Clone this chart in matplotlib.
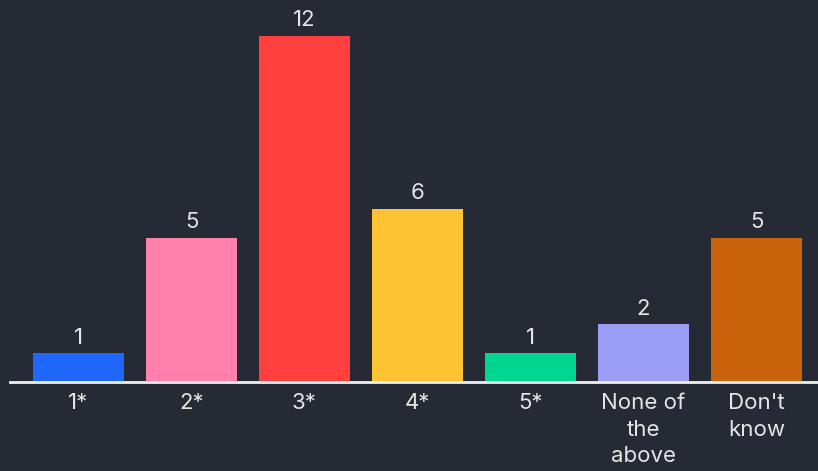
import matplotlib
matplotlib.use("Agg")
import matplotlib.pyplot as plt

categories = ["1*", "2*", "3*", "4*", "5*", "None of\nthe\nabove", "Don't\nknow"]
values = [1, 5, 12, 6, 1, 2, 5]
colors = ["#1f68fb", "#ff80aa", "#ff403f", "#ffc233", "#00d68f", "#9a9df5", "#c9630c"]

bg = "#262a35"
fg = "#e6e6e6"
plt.rcParams["font.family"] = ["Inter", "DejaVu Sans"]

fig = plt.figure(figsize=(8.18, 4.71), dpi=100, facecolor=bg)
ax = fig.add_axes([10 / 818, 89 / 471, 808 / 818, 382 / 471])
ax.set_facecolor(bg)

x = list(range(len(categories)))
bars = ax.bar(x, values, width=0.805, color=colors)
for b, v in zip(bars, values):
    ax.annotate(str(v), (b.get_x() + b.get_width() / 2, v), xytext=(0, 4),
                textcoords="offset points", ha="center", va="bottom",
                color=fg, fontsize=16)

ax.set_xlim(-0.606, 6.544)
ax.set_ylim(0, 13.25)
ax.set_xticks(x)
ax.set_xticklabels(categories, color=fg, fontsize=16, linespacing=1.4)
ax.tick_params(axis="x", length=0, pad=8)
ax.set_yticks([])
for s in ["top", "right", "left"]:
    ax.spines[s].set_visible(False)
ax.spines["bottom"].set_color("#f0f0f0")
ax.spines["bottom"].set_linewidth(2)

fig.savefig("out.png", dpi=100, facecolor=bg)
